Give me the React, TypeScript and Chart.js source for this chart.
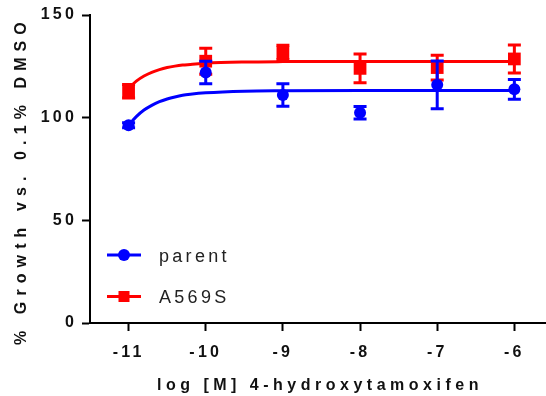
import React, { useEffect, useRef } from "react";
import { Chart, registerables } from "chart.js";

Chart.register(...registerables);

// Concentrations (log M) and measured growth, mean ± SEM
const doses = [-11, -10, -9, -8, -7, -6];
const parentMean = [96.3, 122, 111, 102.4, 116, 113.8];
const parentSem = [1.2, 5.5, 5.5, 3, 11.6, 4.8];
const a569sMean = [112.9, 127.5, 131.8, 124, 124.4, 128.6];
const a569sSem = [3.3, 6.3, 3.5, 7, 6, 6.8];

// Fitted dose-response curves
const fitDoses = [-11, -10.9, -10.8, -10.7, -10.6, -10.5, -10.4, -10.3, -10.2, -10, -9.5, -9, -8, -7, -6];
const parentFit = [96.3, 100.5, 103.7, 106, 107.8, 109.1, 110.1, 110.9, 111.4, 112.1, 112.9, 113.1, 113.2, 113.2, 113.2];
const a569sFit = [114.3, 117.8, 120.3, 122.1, 123.4, 124.4, 125.1, 125.6, 125.9, 126.5, 127.1, 127.3, 127.4, 127.4, 127.4];

const xTicks = [-11, -10, -9, -8, -7, -6];
const yTicks = [0, 50, 100, 150];
const seriesNames = ["parent", "A569S"];
const seriesColors = ["#0000ff", "#ff0000"];
const xTitle = "log [M] 4-hydroxytamoxifen";
const yTitle = "% Growth vs. 0.1% DMSO";

const FONT = '"Liberation Sans", Arial, sans-serif';

const toPoints = (xs: number[], ys: number[]) => xs.map((x, i) => ({ x, y: ys[i] }));

const errorBars = {
  id: "errorBars",
  afterDatasetDraw(chart: any, args: any) {
    const ds = chart.data.datasets[args.index];
    if (!ds.errors) return;
    const ctx = chart.ctx;
    const xs = chart.scales.x;
    const ys = chart.scales.y;
    ctx.save();
    ctx.strokeStyle = ds.borderColor;
    ctx.lineWidth = 3;
    ctx.lineCap = "butt";
    ds.data.forEach((p: any, i: number) => {
      const e = ds.errors[i];
      const px = xs.getPixelForValue(p.x);
      const top = ys.getPixelForValue(p.y + e);
      const bot = ys.getPixelForValue(p.y - e);
      ctx.beginPath();
      ctx.moveTo(px, top);
      ctx.lineTo(px, bot);
      ctx.moveTo(px - 6.5, top);
      ctx.lineTo(px + 6.5, top);
      ctx.moveTo(px - 6.5, bot);
      ctx.lineTo(px + 6.5, bot);
      ctx.stroke();
    });
    ctx.restore();
  },
};

const textLayer = {
  id: "textLayer",
  beforeDraw(chart: any) {
    chart.ctx.letterSpacing = "3.2px";
  },
  afterDraw(chart: any) {
    const ctx = chart.ctx;
    ctx.save();
    ctx.fillStyle = "#111";
    ctx.font = `bold 16px ${FONT}`;
    ctx.textAlign = "left";
    ctx.textBaseline = "alphabetic";
    ctx.letterSpacing = "4.5px";
    ctx.fillText(xTitle, 157, 390);
    ctx.save();
    ctx.translate(26, 345);
    ctx.rotate(-Math.PI / 2);
    ctx.letterSpacing = "6.1px";
    ctx.fillText(yTitle, 0, 0);
    ctx.restore();

    // legend: line with marker, then the series name
    const rows = [255, 296.5];
    seriesNames.forEach((name, i) => {
      const y = rows[i];
      const color = seriesColors[i];
      ctx.strokeStyle = color;
      ctx.fillStyle = color;
      ctx.lineWidth = 3;
      ctx.beginPath();
      ctx.moveTo(107, y);
      ctx.lineTo(141, y);
      ctx.stroke();
      if (i === 0) {
        ctx.beginPath();
        ctx.arc(124, y, 6, 0, Math.PI * 2);
        ctx.fill();
      } else {
        ctx.fillRect(118.5, y - 5.5, 11, 11);
      }
      ctx.fillStyle = "#222";
      ctx.font = `18px ${FONT}`;
      ctx.letterSpacing = "3.3px";
      ctx.textBaseline = "middle";
      ctx.fillText(name, 159, y + 2);
    });
    ctx.restore();
  },
};

const noScalePadding = (scale: any) => {
  scale.paddingLeft = 0;
  scale.paddingRight = 0;
  scale.paddingTop = 0;
  scale.paddingBottom = 0;
};

export default function App() {
  const canvasRef = useRef<HTMLCanvasElement | null>(null);

  useEffect(() => {
    const canvas = canvasRef.current;
    if (!canvas) return;
    const chart = new Chart(canvas, {
      type: "scatter",
      data: {
        datasets: [
          {
            type: "scatter",
            label: seriesNames[0],
            data: toPoints(doses, parentMean),
            errors: parentSem,
            borderColor: seriesColors[0],
            backgroundColor: seriesColors[0],
            pointStyle: "circle",
            pointRadius: 6,
            pointBorderWidth: 0,
            order: 0,
          } as any,
          {
            type: "line",
            label: seriesNames[0] + " fit",
            data: toPoints(fitDoses, parentFit),
            borderColor: seriesColors[0],
            borderWidth: 3,
            pointRadius: 0,
            cubicInterpolationMode: "monotone",
            fill: false,
            order: 1,
          } as any,
          {
            type: "scatter",
            label: seriesNames[1],
            data: toPoints(doses, a569sMean),
            errors: a569sSem,
            borderColor: seriesColors[1],
            backgroundColor: seriesColors[1],
            pointStyle: "rect",
            pointRadius: 9,
            pointBorderWidth: 0,
            order: 2,
          } as any,
          {
            type: "line",
            label: seriesNames[1] + " fit",
            data: toPoints(fitDoses, a569sFit),
            borderColor: seriesColors[1],
            borderWidth: 3,
            pointRadius: 0,
            cubicInterpolationMode: "monotone",
            fill: false,
            order: 3,
          } as any,
        ],
      },
      options: {
        animation: false,
        responsive: false,
        devicePixelRatio: 1,
        layout: { autoPadding: false, padding: { top: 15, left: 0, right: 0, bottom: 0 } },
        plugins: {
          legend: { display: false },
          tooltip: { enabled: false },
        },
        scales: {
          x: {
            type: "linear",
            min: -11.5,
            max: -5.59,
            afterBuildTicks: (scale: any) => {
              scale.ticks = xTicks.map((value) => ({ value }));
            },
            afterFit: (scale: any) => {
              scale.height = 73;
              noScalePadding(scale);
            },
            grid: {
              drawOnChartArea: false,
              drawTicks: true,
              tickLength: 8,
              tickWidth: 2,
              tickColor: "#000",
            },
            border: { display: true, color: "#000", width: 2 },
            ticks: {
              autoSkip: false,
              maxRotation: 0,
              padding: 12,
              color: "#111",
              font: { family: FONT, size: 16, weight: "bold" },
            },
          },
          y: {
            type: "linear",
            min: 0,
            max: 150,
            afterBuildTicks: (scale: any) => {
              scale.ticks = yTicks.map((value) => ({ value }));
            },
            afterFit: (scale: any) => {
              scale.width = 90;
              noScalePadding(scale);
            },
            grid: {
              drawOnChartArea: false,
              drawTicks: true,
              tickLength: 8,
              tickWidth: 2,
              tickColor: "#000",
            },
            border: { display: true, color: "#000", width: 2 },
            ticks: {
              padding: 5,
              color: "#111",
              font: { family: FONT, size: 16, weight: "bold" },
            },
          },
        },
      },
      plugins: [errorBars, textLayer],
    } as any);
    return () => chart.destroy();
  }, []);

  return (
    <div style={{ position: "absolute", left: 0, top: 0, width: 546, height: 396, background: "#fff" }}>
      <canvas ref={canvasRef} width={546} height={396} style={{ display: "block", width: 546, height: 396 }} />
    </div>
  );
}
